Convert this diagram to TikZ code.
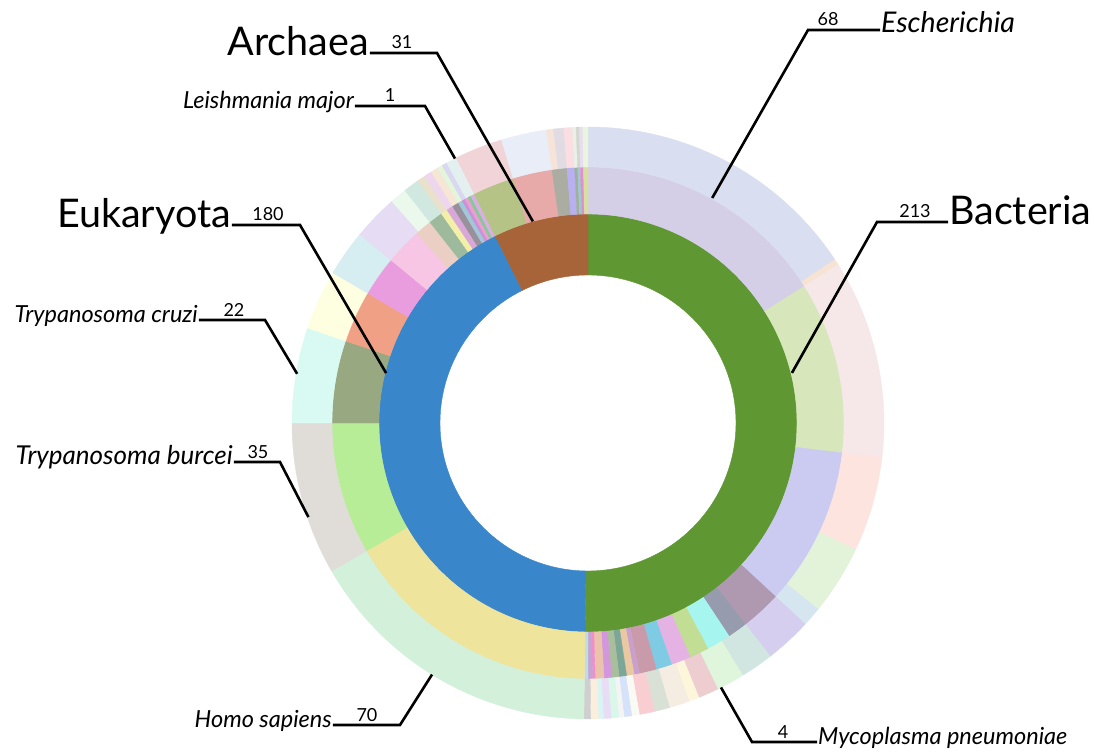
\documentclass[tikz,border=0pt]{standalone}
\usepackage{fontspec}
\setmainfont{Lato}
\usepackage{tikz}
\usetikzlibrary{positioning}

% one piece of a ring: inner radius, outer radius, from, to (degrees clockwise from top), colour
\newcommand\ringseg[5]{%
  \definecolor{segcol}{HTML}{#5}%
  \filldraw[segcol, line width=0.4pt] ({90-#3}:#1) arc[start angle={90-#3}, end angle={90-#4}, radius=#1pt]
    -- ({90-#4}:#2) arc[start angle={90-#4}, end angle={90-#3}, radius=#2pt] -- cycle;}

\begin{document}
\begin{tikzpicture}[x=1pt, y=1pt,
  biglabel/.style={font=\fontsize{39.5}{46}\selectfont, inner sep=1pt},
  smalllabel/.style={font=\fontsize{23.5}{28}\selectfont\itshape, inner sep=1pt},
  numlabel/.style={font=\fontsize{18}{21}\selectfont, anchor=base, inner sep=0pt},
  leader/.style={line width=2.6pt}]
\useasboundingbox (-588,-332) rectangle (506,423);

% kingdoms
\foreach \a/\b/\c in {0/180.8/5F9733, 180.8/333.6/3986CB, 333.6/360/A76438}
  \ringseg{148}{209}{\a}{\b}{\c};

% species
\foreach \a/\b/\c in {0/57.7/D4CEE6, 57.7/96.7/D7E6BB, 96.7/132.8/CBCBF1, 132.8/142/AE99B1,
    142/146.5/969BAD, 146.5/152/A6F6EF, 152/156.4/C1DE94, 156.4/160.9/E4B3E4,
    160.9/164.5/7FCBE3, 164.5/168.4/C99BAA, 168.4/169.6/C9A0CC, 169.6/171.3/E9C8A2,
    171.3/173/7CA697, 173/174.7/A9BE9A, 174.7/176.4/D297DD, 176.4/178.4/EBC2AC,
    178.4/179/F48DCA, 179/180/C8A2D2, 180/180.8/BEDDE8,
    180.8/240/EFE49C, 240/270/B8ED97, 270/288.7/98A880, 288.7/300.5/F0A085,
    300.5/309.6/E99DDF, 309.6/317.9/F7C6E4, 317.9/321.8/EBCFC5, 321.8/325/9DBB9C,
    325/326.5/F3EFA8, 326.5/328/D8A8D8, 328/329.5/98909A, 329.5/330.5/A0C8D8,
    330.5/331.2/CC90D8, 331.2/332/E8A0D0, 332/332.7/88C898, 332.7/333.6/D8B0E0,
    333.6/343/B5C386, 343/351.9/E8AAA8, 351.9/355.3/ABADA3, 355.3/357/B8B0F0,
    357/357.7/A0B0A0, 357.7/358.3/A0C8D0, 358.3/359/E090D0, 359/360/D8E0A0}
  \ringseg{209}{256}{\a}{\b}{\c};

% strains
\foreach \a/\b/\c in {0/56.5/D9DEF0, 56.5/57.7/F6E3D4, 57.7/96.7/F6E7E8, 96.7/115.3/FDE4DF,
    115.3/129/E3F3DA, 129/132.8/D6E6F0, 132.8/142/D5CEEF, 142/148.5/D1E6E1,
    148.5/154/DFF6DC, 154/158/EDCDD0, 158/160/FDF6DA, 160/164/F5EDE1,
    164/167/D9E1D6, 167/170/F9CED2, 170/171.5/FAFAF4, 171.5/173/D5E2FA,
    173/174/F4F4F4, 174/175.5/D9F8E9, 175.5/177/E9DDF6, 177/178/D9F4F4,
    178/179.5/FCEEDC, 179.5/180.8/CFCFCF,
    180.8/240/D3F0DB, 240/270/E0DCD8, 270/288.7/D9F9F3, 288.7/300.5/FEFEE0,
    300.5/309.6/D6EDF1, 309.6/318.5/E6DCF4, 318.5/321.8/EBF9EC, 321.8/325/D1E8E0,
    325/326.5/E9E1CC, 326.5/328/EDD6EE, 328/329.5/F5E6D6, 329.5/330.5/E5F5DC,
    330.5/331.5/D8D8F0, 331.5/333.6/E4F0F0,
    333.6/343/F0D4D7, 343/351.9/E9EDF7, 351.9/353.3/F7E4D8, 353.3/355.3/E1DCE4,
    355.3/357/FBDEE1, 357/357.7/E9F0E9, 357.7/358.3/D0D8D0, 358.3/359/E9DCF1,
    359/360/E9F5DC}
  \ringseg{256}{296}{\a}{\b}{\c};

% labels
\node[biglabel, anchor=mid east] (archaea) at (-218,370) {Archaea};
\node[numlabel] (nArchaea) at (-186,374) {31};
\coordinate (archaeaBend) at (-151,370);
\coordinate (archaeaPt) at (105.3:209);

\node[smalllabel, anchor=mid east] (leishmania) at (-233,317) {Leishmania major};
\node[numlabel] (nLeishmania) at (-198,321) {1};
\coordinate (leishmaniaBend) at (-163,317);
\coordinate (leishmaniaPt) at (116.7:296);

\node[smalllabel, font=\fontsize{28.5}{33}\selectfont\itshape, anchor=mid west] (escherichia) at (292,393) {Escherichia};
\node[numlabel] (nEscherichia) at (240,397) {68};
\coordinate (escherichiaBend) at (220,393);
\coordinate (escherichiaPt) at (61.1:257);

\node[biglabel, anchor=mid west] (bacteria) at (360,201) {Bacteria};
\node[numlabel] (nBacteria) at (327,205) {213};
\coordinate (bacteriaBend) at (289,201);
\coordinate (bacteriaPt) at (13.8:210);

\node[biglabel, anchor=mid east] (eukaryota) at (-356,198) {Eukaryota};
\node[numlabel] (nEukaryota) at (-320,202) {180};
\coordinate (eukaryotaBend) at (-288,198);
\coordinate (eukaryotaPt) at (166.1:208);

\node[smalllabel, anchor=mid east] (cruzi) at (-389,103) {Trypanosoma cruzi};
\node[numlabel] (nCruzi) at (-354,107) {22};
\coordinate (cruziBend) at (-323,103);
\coordinate (cruziPt) at (170.4:295);

\node[smalllabel, font=\fontsize{26}{30}\selectfont\itshape, anchor=mid east] (burcei) at (-354,-39) {Trypanosoma burcei};
\node[numlabel] (nBurcei) at (-330,-35) {35};
\coordinate (burceiBend) at (-308,-39);
\coordinate (burceiPt) at (198.6:295);

\node[smalllabel, anchor=mid east] (homo) at (-255,-302) {Homo sapiens};
\node[numlabel] (nHomo) at (-221,-298) {70};
\coordinate (homoBend) at (-188,-302);
\coordinate (homoPt) at (238.2:296);

\node[smalllabel, anchor=mid west] (mycoplasma) at (229,-319) {Mycoplasma pneumoniae};
\node[numlabel] (nMycoplasma) at (195,-315) {4};
\coordinate (mycoplasmaBend) at (164,-319);
\coordinate (mycoplasmaPt) at (-63.3:296);

\draw[leader] (archaea.mid east) -- (archaeaBend) -- (archaeaPt);
\draw[leader] (leishmania.mid east) -- (leishmaniaBend) -- (leishmaniaPt);
\draw[leader] (escherichia.mid west) -- (escherichiaBend) -- (escherichiaPt);
\draw[leader] (bacteria.mid west) -- (bacteriaBend) -- (bacteriaPt);
\draw[leader] (eukaryota.mid east) -- (eukaryotaBend) -- (eukaryotaPt);
\draw[leader] (cruzi.mid east) -- (cruziBend) -- (cruziPt);
\draw[leader] (burcei.mid east) -- (burceiBend) -- (burceiPt);
\draw[leader] (homo.mid east) -- (homoBend) -- (homoPt);
\draw[leader] (mycoplasma.mid west) -- (mycoplasmaBend) -- (mycoplasmaPt);
\end{tikzpicture}
\end{document}
